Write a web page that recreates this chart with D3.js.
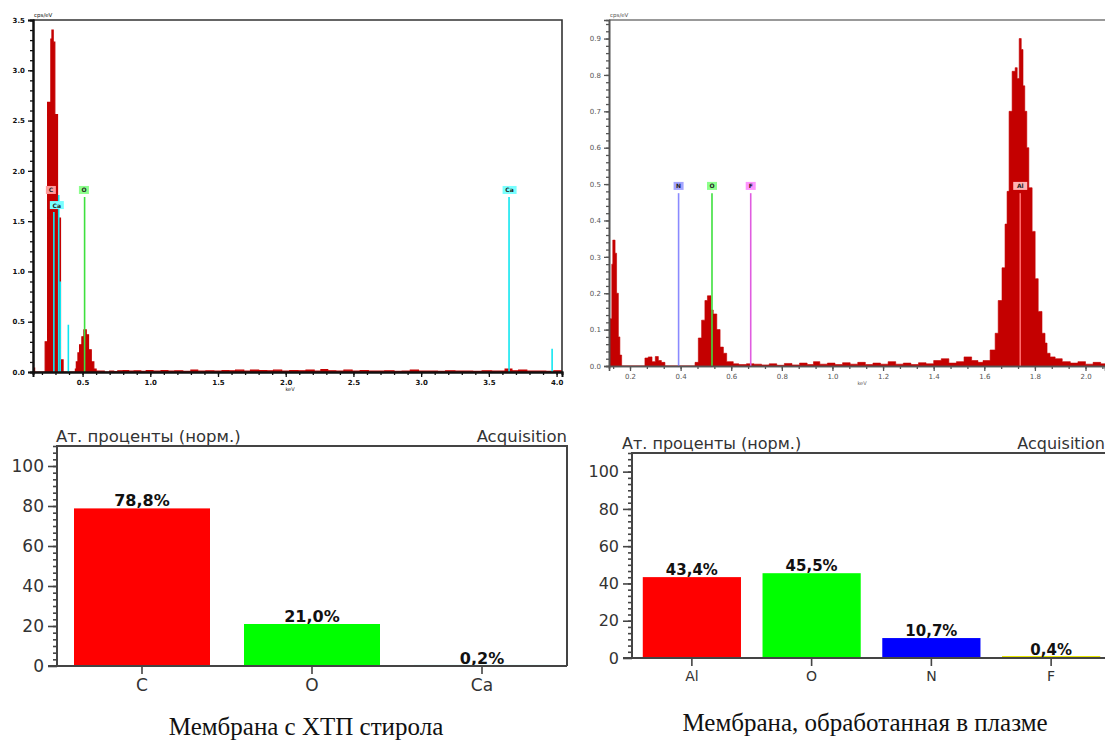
<!DOCTYPE html>
<html>
<head>
<meta charset="utf-8">
<script src="https://cdn.jsdelivr.net/npm/d3@7"></script>
<style>
  body { margin: 0; background: #fff; }
  svg { display: block; }
</style>
</head>
<body>
<div id="vis"></div>
<script>
// ---- spectrum 1 (membrane with styrene) : energy (keV) and counts (cps/eV)
const S1_KEV = [0.134,0.146,0.224,0.242,0.266,0.274,0.283,0.295,0.315,0.337,0.356,
  0.447,0.454,0.466,0.478,0.495,0.510,0.527,0.544,0.564,0.583,0.600,
  0.62,0.66,0.70,0.73,0.76,0.80,0.84,0.88,0.93,0.97,
  1.02,1.08,1.13,1.18,1.24,1.30,1.35,1.41,1.47,1.53,
  1.58,1.63,1.69,1.74,1.80,1.86,1.91,1.97,2.03,2.09,
  2.15,2.21,2.26,2.31,2.37,2.43,2.49,2.55,2.61,2.67,
  2.73,2.80,2.86,2.92,2.98,3.05,3.12,3.18,3.25,3.32,
  3.38,3.45,3.52,3.58,3.62,3.67,3.72,3.78,3.85,3.92,3.98,4.04];
const S1_CPS = [0.04,0,0.30,2.68,3.31,3.40,3.28,2.56,1.53,0.12,0,
  0.03,0.10,0.19,0.27,0.35,0.42,0.37,0.22,0.10,0.03,0.01,
  0.01,0,0.01,0.005,0.012,0.015,0.008,0.012,0.006,0.014,
  0.01,0.015,0.008,0.012,0.006,0.02,0.01,0.012,0.008,0.015,
  0.012,0.018,0.01,0.02,0.015,0.012,0.018,0.01,0.015,0.012,
  0.02,0.01,0.025,0.012,0.01,0.018,0.008,0.015,0.01,0.008,
  0.012,0.006,0.01,0.02,0.008,0.01,0.006,0.012,0.008,0.01,
  0.006,0.012,0.008,0.01,0.03,0.012,0.02,0.008,0.01,0.006,0.012,0];
// element lines drawn on spectrum 1
const S1_LINE_EL  = ["Ca","Ca","Ca","Ca","O","Ca","Ca"];
const S1_LINE_KEV = [0.288,0.324,0.335,0.395,0.515,3.649,3.967];
const S1_LINE_TOP = [1.59,1.76,0.90,0.47,1.74,1.74,0.23];
// element tags on spectrum 1
const S1_TAG_EL  = ["C","Ca","O","Ca"];
const S1_TAG_KEV = [0.266,0.310,0.510,3.653];
const S1_TAG_CPS = [1.81,1.66,1.81,1.81];

// ---- spectrum 2 (plasma treated membrane)
const S2_KEV = [0.117,0.121,0.128,0.132,0.141,0.147,0.154,0.160,0.167,
  0.259,0.272,0.287,0.300,0.312,0.324,0.338,
  0.457,0.470,0.483,0.496,0.506,0.520,0.529,0.543,0.556,0.569,0.582,0.608,
  0.63,0.66,0.69,0.72,0.75,0.78,0.81,0.84,0.87,0.90,
  0.925,0.95,0.98,1.01,1.04,1.07,1.10,1.13,1.16,1.19,
  1.22,1.25,1.28,1.31,1.34,1.37,1.40,1.43,1.46,1.49,
  1.52,1.55,1.575,
  1.595,1.623,1.643,1.655,1.670,1.682,1.690,1.698,1.710,1.722,
  1.730,1.738,1.746,1.753,1.760,1.768,1.776,1.789,1.801,1.813,
  1.828,1.840,1.848,1.86,1.88,1.908,
  1.94,1.97,2.00,2.03,2.06,2.08];
const S2_CPS = [0.05,0.13,0.28,0.346,0.31,0.20,0.08,0.03,0,
  0.022,0.025,0.012,0.026,0.015,0.01,0,
  0.01,0.077,0.126,0.18,0.193,0.154,0.143,0.10,0.052,0.035,0.012,0.006,
  0.004,0.006,0.005,0.003,0.006,0.002,0.007,0.003,0.008,0.004,
  0.012,0.005,0.008,0.004,0.009,0.005,0.01,0.004,0.008,0.005,
  0.012,0.005,0.008,0.004,0.009,0.006,0.015,0.02,0.008,0.012,
  0.025,0.015,0.01,
  0.015,0.044,0.09,0.18,0.27,0.39,0.48,0.70,0.81,0.82,
  0.79,0.90,0.87,0.77,0.70,0.60,0.49,0.37,0.24,0.15,
  0.09,0.063,0.035,0.025,0.02,0.012,
  0.008,0.012,0.005,0.01,0.006,0.008];
const S2_LINE_EL  = ["N","O","F","Al"];
const S2_LINE_KEV = [0.392,0.524,0.677,1.742];
const S2_LINE_TOP = [0.475,0.475,0.475,0.475];
const S2_TAG_EL  = ["N","O","F","Al"];
const S2_TAG_KEV = [0.392,0.524,0.677,1.742];
const S2_TAG_CPS = [0.495,0.495,0.495,0.495];

// ---- atomic percent bars
const BAR1_EL  = ["C","O","Ca"];
const BAR1_PCT = [78.8, 21.0, 0.2];
const BAR2_EL  = ["Al","O","N","F"];
const BAR2_PCT = [43.4, 45.5, 10.7, 0.4];
const BAR_TICKS = [0, 20, 40, 60, 80, 100];

const CAPTION1 = "Мембрана с ХТП стирола";
const CAPTION2 = "Мембрана, обработанная в плазме";
const BAR_TITLE = "Ат. проценты (норм.)";

// colours
const LINE_COLOR = {C: "#ff8c8c", Ca: "#12e6f0", O: "#3ee03e", N: "#8a8aff", F: "#e05ce0", Al: "#ff6a6a"};
const TAG_COLOR  = {C: "#ff9c9c", Ca: "#78ffff", O: "#8cff8c", N: "#a4a4ff", F: "#ff94ff", Al: "#ffb4b4"};
const BAR_COLOR  = {C: "#ff0000", O: "#00ff00", Ca: "#f4ffff", Al: "#ff0000", N: "#0000ff", F: "#e6e600"};

const SVG = d3.select("#vis").append("svg")
    .attr("width", 1105)
    .attr("height", 742);

//Spectrum drawing
function drawSpectrum(o) {
  const g = SVG.append("g");
  const X = d3.scaleLinear().domain(o.xDom).range([o.left, o.right]);
  const Y = d3.scaleLinear().domain(o.yDom).range([o.bottom, o.top]);

  const clipId = "clip" + o.id;
  g.append("clipPath").attr("id", clipId)
    .append("rect")
      .attr("x", o.left).attr("y", o.top)
      .attr("width", o.right - o.left).attr("height", o.bottom - o.top);

  const pts = o.kev.map((k, i) => [k, o.cps[i]]);
  const area = d3.area()
      .x(d => X(d[0]))
      .y0(Y(0))
      .y1(d => Y(d[1]))
      .curve(d3.curveStepAfter);

  g.append("path")
    .datum(pts)
    .attr("clip-path", "url(#" + clipId + ")")
    .attr("d", area)
    .attr("fill", "#c40000")
    .attr("stroke", "#c40000")
    .attr("stroke-width", o.areaStroke);

  // element lines
  const lines = o.lineEl.map((e, i) => ({el: e, kev: o.lineKev[i], top: o.lineTop[i]}));
  g.selectAll(".eline").data(lines).enter()
    .append("line")
      .attr("x1", d => X(d.kev)).attr("x2", d => X(d.kev))
      .attr("y1", d => Y(d.top)).attr("y2", Y(0))
      .attr("stroke", d => LINE_COLOR[d.el])
      .attr("stroke-width", 1.6);

  // element tags
  const tags = o.tagEl.map((e, i) => ({el: e, kev: o.tagKev[i], cps: o.tagCps[i]}));
  const tg = g.selectAll(".tag").data(tags).enter().append("g")
      .attr("transform", d => "translate(" + X(d.kev) + "," + Y(d.cps) + ")");
  tg.append("rect")
      .attr("x", d => d.el.length > 1 ? -7 : -5).attr("y", -4)
      .attr("width", d => d.el.length > 1 ? 14 : 10).attr("height", 8)
      .attr("fill", d => TAG_COLOR[d.el]);
  tg.append("text")
      .attr("text-anchor", "middle").attr("y", 2.5)
      .attr("font-family", "DejaVu Sans").attr("font-size", 6).attr("font-weight", "bold")
      .attr("fill", "#222")
      .text(d => d.el);

  // frame
  g.append("path")
    .attr("d", "M" + o.left + "," + o.top + "H" + o.frameRight + (o.rightBorder ? "V" + o.bottom : ""))
    .attr("fill", "none")
    .attr("stroke", o.frameColor)
    .attr("stroke-width", 1.6);

  // axes
  const xMinor = g.append("g").attr("transform", "translate(0," + o.bottom + ")")
      .call(d3.axisBottom(X).tickValues(o.xMinor).tickSize(3).tickFormat(""));
  const xMajor = g.append("g").attr("transform", "translate(0," + o.bottom + ")")
      .call(d3.axisBottom(X).tickValues(o.xMajor).tickSize(5).tickPadding(3).tickFormat(d3.format(".1f")));
  const yMinor = g.append("g").attr("transform", "translate(" + o.left + ",0)")
      .call(d3.axisLeft(Y).tickValues(o.yMinor).tickSize(3).tickFormat(""));
  const yMajor = g.append("g").attr("transform", "translate(" + o.left + ",0)")
      .call(d3.axisLeft(Y).tickValues(o.yMajor).tickSize(5).tickPadding(3).tickFormat(d3.format(".1f")));

  [xMinor, xMajor, yMinor, yMajor].forEach(a => {
    a.selectAll("path").attr("stroke", o.axisColor).attr("stroke-width", o.axisWidth);
    a.selectAll("line").attr("stroke", o.axisColor).attr("stroke-width", 1.3);
    a.selectAll("text")
      .attr("font-family", "DejaVu Sans")
      .attr("font-size", 7)
      .attr("font-weight", o.labelWeight)
      .attr("fill", o.labelColor);
  });

  g.append("text")
    .attr("x", o.left + 1).attr("y", o.top - 3)
    .attr("font-family", "DejaVu Sans").attr("font-size", 5.5)
    .attr("fill", o.labelColor)
    .text("cps/eV");
  g.append("text")
    .attr("x", o.unitX).attr("y", o.bottom + 19)
    .attr("text-anchor", "middle")
    .attr("font-family", "DejaVu Sans").attr("font-size", 5)
    .attr("fill", o.labelColor)
    .text("keV");
}

drawSpectrum({
  id: 1, left: 33, right: 562, top: 20, bottom: 372, frameRight: 562, rightBorder: true,
  xDom: [0.134, 4.04], yDom: [0, 3.5],
  kev: S1_KEV, cps: S1_CPS,
  lineEl: S1_LINE_EL, lineKev: S1_LINE_KEV, lineTop: S1_LINE_TOP,
  tagEl: S1_TAG_EL, tagKev: S1_TAG_KEV, tagCps: S1_TAG_CPS,
  xMajor: d3.range(1, 9).map(i => i / 2),
  xMinor: d3.range(2, 41).map(i => i / 10),
  yMajor: d3.range(0, 8).map(i => i / 2),
  yMinor: d3.range(0, 36).map(i => i / 10),
  frameColor: "#333", axisColor: "#111", axisWidth: 2, labelColor: "#111", labelWeight: "bold",
  unitX: 290, areaStroke: 1.2
});

drawSpectrum({
  id: 2, left: 609, right: 1105, top: 20, bottom: 366, frameRight: 1105, rightBorder: false,
  xDom: [0.117, 2.077], yDom: [0, 0.951],
  kev: S2_KEV, cps: S2_CPS,
  lineEl: S2_LINE_EL, lineKev: S2_LINE_KEV, lineTop: S2_LINE_TOP,
  tagEl: S2_TAG_EL, tagKev: S2_TAG_KEV, tagCps: S2_TAG_CPS,
  xMajor: d3.range(1, 11).map(i => i / 5),
  xMinor: d3.range(2, 32).map(i => i / 15),
  yMajor: d3.range(0, 10).map(i => i / 10),
  yMinor: d3.range(0, 48).map(i => i / 50),
  frameColor: "#777", axisColor: "#555", axisWidth: 1.6, labelColor: "#555", labelWeight: "normal",
  unitX: 862, areaStroke: 0.6
});

//Bar chart drawing
function drawBars(o) {
  const g = SVG.append("g");
  const X = d3.scaleBand().domain(o.el).range([o.left, o.right])
      .paddingInner(o.pad).paddingOuter(o.pad / 2);
  const Y = d3.scaleLinear().domain([0, 110]).range([o.bottom, o.top]);

  // frame
  g.append("path")
    .attr("d", "M" + o.left + "," + o.bottom + "V" + o.top + "H" + o.frameRight + (o.rightBorder ? "V" + o.bottom : ""))
    .attr("fill", "none").attr("stroke", "#444").attr("stroke-width", 2);

  // bars
  const data = o.el.map((e, i) => ({el: e, pct: o.pct[i]}));
  g.selectAll(".bar").data(data).enter()
    .append("rect")
      .attr("x", d => X(d.el))
      .attr("y", d => Math.min(Y(d.pct), Y(0) - 2))
      .attr("width", X.bandwidth())
      .attr("height", d => Math.max(Y(0) - Y(d.pct), 2))
      .attr("fill", d => BAR_COLOR[d.el]);

  const fmt = d3.format(".1f");
  g.selectAll(".val").data(data).enter()
    .append("text")
      .attr("x", d => X(d.el) + X.bandwidth() / 2)
      .attr("y", d => Y(d.pct) - 2)
      .attr("text-anchor", "middle")
      .attr("font-family", "DejaVu Sans").attr("font-weight", "bold")
      .attr("font-size", o.valSize).attr("fill", "#111")
      .text(d => fmt(d.pct).replace(".", ",") + "%");

  // y axis
  const yMinor = g.append("g").attr("transform", "translate(" + o.left + ",0)")
      .call(d3.axisLeft(Y).tickValues(d3.range(1, 34).map(i => i * 20 / 6)).tickSize(4).tickFormat(""));
  const yMajor = g.append("g").attr("transform", "translate(" + o.left + ",0)")
      .call(d3.axisLeft(Y).tickValues(BAR_TICKS).tickSize(9).tickPadding(4));
  // x axis
  const xAxis = g.append("g").attr("transform", "translate(0," + o.bottom + ")")
      .call(d3.axisBottom(X).tickSize(8).tickPadding(5).tickSizeOuter(0));

  [yMinor, yMajor, xAxis].forEach(a => {
    a.select(".domain").remove();
    a.selectAll("line").attr("stroke", "#444").attr("stroke-width", 1.6);
    a.selectAll("text").attr("font-family", "DejaVu Sans").attr("fill", "#333");
  });
  yMajor.selectAll("text").attr("font-size", o.tickSize);
  xAxis.selectAll("text").attr("font-size", o.catSize);

  g.append("line")
    .attr("x1", o.left - 9).attr("x2", o.frameRight)
    .attr("y1", o.bottom).attr("y2", o.bottom)
    .attr("stroke", "#444").attr("stroke-width", 2);

  g.append("text")
    .attr("x", o.titleX).attr("y", o.top - 4)
    .attr("font-family", "DejaVu Sans").attr("font-size", o.titleSize).attr("fill", "#333")
    .text(BAR_TITLE);
  g.append("text")
    .attr("x", o.acqX).attr("y", o.top - 4)
    .attr("text-anchor", "end")
    .attr("font-family", "DejaVu Sans").attr("font-size", o.titleSize).attr("fill", "#333")
    .text("Acquisition");

  g.append("text")
    .attr("x", o.capX).attr("y", o.capY)
    .attr("text-anchor", "middle")
    .attr("font-family", "Liberation Serif").attr("font-size", 25).attr("fill", "#111")
    .text(o.caption);
}

drawBars({
  el: BAR1_EL, pct: BAR1_PCT, left: 57, right: 567, top: 446, bottom: 666,
  frameRight: 567, rightBorder: true, pad: 0.2,
  valSize: 16, tickSize: 17, catSize: 17, titleSize: 16.5, titleX: 56, acqX: 567,
  caption: CAPTION1, capX: 306, capY: 735
});

drawBars({
  el: BAR2_EL, pct: BAR2_PCT, left: 632, right: 1111, top: 453, bottom: 658,
  frameRight: 1105, rightBorder: false, pad: 0.18,
  valSize: 15, tickSize: 16, catSize: 14, titleSize: 16, titleX: 622, acqX: 1105,
  caption: CAPTION2, capX: 865, capY: 731
});
</script>
</body>
</html>
